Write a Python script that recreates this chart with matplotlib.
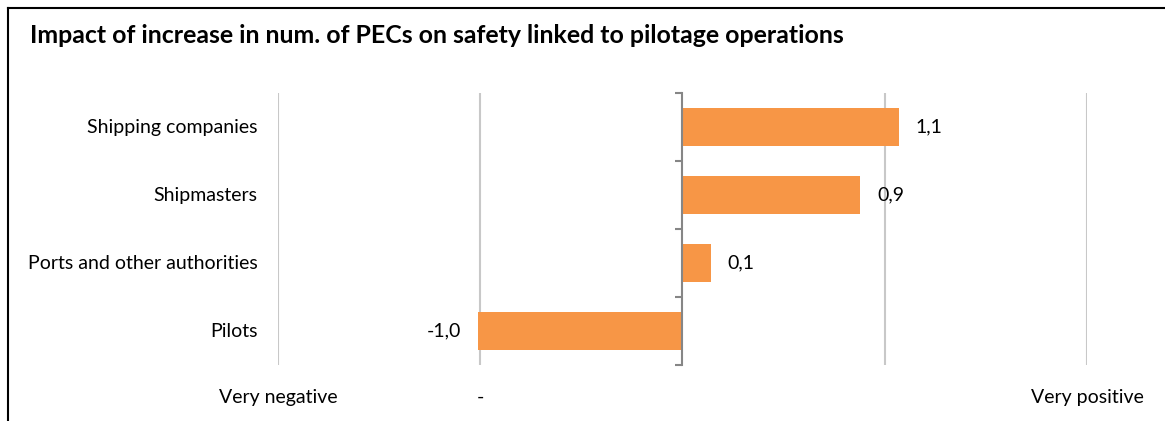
import matplotlib.pyplot as plt
from matplotlib.lines import Line2D

# Mean scores per stakeholder group (scale -2 .. 2)
groups = ['Shipping companies', 'Shipmasters', 'Ports and other authorities', 'Pilots']
scores = [1.07, 0.88, 0.14, -1.01]
scale_ticks = [-2, -1, 0, 1, 2]
scale_labels = ['Very negative', '-', '', '', 'Very positive']

plt.rcParams['font.family'] = ['Lato', 'DejaVu Sans']

fig = plt.figure(figsize=(11.65, 4.21), dpi=100)
ax = fig.add_axes([0.2386, 0.133, 0.6944, 0.646])

ypos = list(range(len(groups)))[::-1]
ax.barh(ypos, scores, height=0.55, color='#F79646', zorder=3)

ax.set_xlim(-2, 2)
ax.set_ylim(-0.5, len(groups) - 0.5)

for x in [-2, -1, 1, 2]:
    ax.axvline(x, color='#C8C8C8', lw=1.5, zorder=1)

# value labels with decimal comma
for y, v in zip(ypos, scores):
    txt = f'{v:.1f}'.replace('.', ',')
    if v >= 0:
        ax.annotate(txt, (v, y), xytext=(12, 0), textcoords='offset points',
                    ha='left', va='center', fontsize=14)
    else:
        ax.annotate(txt, (v, y), xytext=(-12, 0), textcoords='offset points',
                    ha='right', va='center', fontsize=14)

# category axis sits at zero, labels kept on the far left
for s in ['top', 'right', 'bottom']:
    ax.spines[s].set_visible(False)
ax.spines['left'].set_position(('data', 0))
ax.spines['left'].set_color('#868686')
ax.spines['left'].set_linewidth(1.5)
ax.spines['left'].set_zorder(4)
ax.set_yticks([y - 0.5 for y in range(len(groups) + 1)])
ax.set_yticklabels([])
ax.tick_params(axis='y', direction='out', length=5, width=1.5, color='#868686')
for y, g in zip(ypos, groups):
    ax.text(-0.025, y, g, transform=ax.get_yaxis_transform(), ha='right',
            va='center', fontsize=14)

ax.set_xticks(scale_ticks)
ax.set_xticklabels(scale_labels, fontsize=14)
ax.tick_params(axis='x', length=0, pad=17)

fig.text(0.026, 0.915, 'Impact of increase in num. of PECs on safety linked to pilotage operations',
         fontsize=17.9, fontweight='bold', va='center')

# outer frame (left and top edges)
fig.add_artist(Line2D([0.0065, 0.0065], [0, 0.981], transform=fig.transFigure, color='black', lw=1.5))
fig.add_artist(Line2D([0.0065, 1], [0.981, 0.981], transform=fig.transFigure, color='black', lw=1.5))

fig.savefig('out.png', dpi=100)
